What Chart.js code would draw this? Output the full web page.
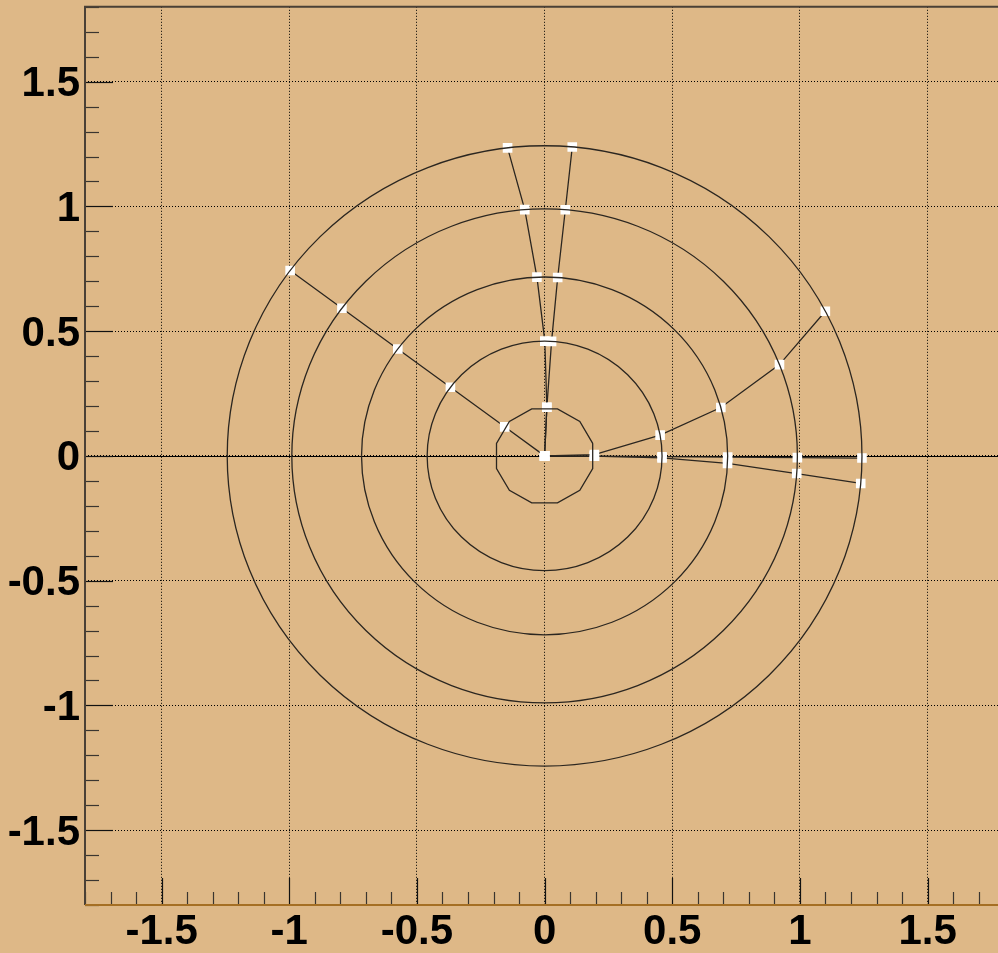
<!DOCTYPE html>
<html>
<head>
<meta charset="utf-8">
<script src="https://cdn.jsdelivr.net/npm/chart.js@4"></script>
<style>
  html, body { margin: 0; padding: 0; overflow: hidden; background: #deb887; }
  #wrap { position: absolute; left: 0; top: 0; width: 1011px; height: 953px; }
</style>
</head>
<body>
<div id="wrap"><canvas id="polar" width="1011" height="953"></canvas></div>
<script>
// --- Datos: radios comunes y ángulos (grados) de cada rama ---
const radii      = [0, 0.195, 0.46, 0.717, 0.99, 1.243];
const ringRadii  = [0.195, 0.46, 0.717, 0.99, 1.243];
const spokeA     = [0, 143.3, 143.3, 143.3, 143.3, 143.3];
const spokeB     = [0, 87.4, 89.9, 92.4, 94.5, 96.7];
const spokeC     = [0, 87.4, 86.6, 85.9, 85.3, 85.0];
const spokeD     = [0, 1.6, 10.4, 15.7, 21.7, 27.8];
const spokeE     = [0, -0.3, -1.0, -2.4, -4.1, -5.1];
const spokeF     = [0, -0.4, -0.4, -0.4, -0.4, -0.4];
const tickValues = [-1.5, -1, -0.5, 0, 0.5, 1, 1.5];
const axisMin = -1.8, axisMax = 1.8;

const BG = '#deb887';
const LINE = '#2b2620';

// (r, theta) -> {x, y}
const toXY = angles => radii.map((r, i) => {
  const t = angles[i] * Math.PI / 180;
  return { x: r * Math.cos(t), y: r * Math.sin(t) };
});

const spoke = angles => ({
  data: toXY(angles),
  showLine: true,
  borderColor: LINE,
  borderWidth: 1.3,
  pointStyle: 'rect',
  pointRadius: 6.8,
  pointBackgroundColor: '#ffffff',
  pointBorderWidth: 0
});

// fondo del canvas
const bgPlugin = {
  id: 'bg',
  beforeDraw(chart) {
    const ctx = chart.ctx;
    ctx.save();
    ctx.fillStyle = BG;
    ctx.fillRect(0, 0, chart.width, chart.height);
    ctx.restore();
  }
};

// eje polar horizontal (y = 0), debajo de los marcadores
const axisPlugin = {
  id: 'polarAxis',
  beforeDatasetsDraw(chart) {
    const { ctx, chartArea: a, scales: { y } } = chart;
    const py = Math.round(y.getPixelForValue(0)) + 0.5;
    ctx.save();
    ctx.strokeStyle = '#000';
    ctx.lineWidth = 1;
    ctx.beginPath();
    ctx.moveTo(a.left, py);
    ctx.lineTo(a.right, py);
    ctx.stroke();
    ctx.restore();
  }
};

// círculos de radio constante, por encima de los marcadores
const ringsPlugin = {
  id: 'rings',
  afterDatasetsDraw(chart) {
    const { ctx, scales: { x, y } } = chart;
    const cx = x.getPixelForValue(0), cy = y.getPixelForValue(0);
    ctx.save();
    ctx.strokeStyle = LINE;
    ctx.lineWidth = 1.3;
    ringRadii.forEach((r, i) => {
      ctx.beginPath();
      if (i === 0) {
        // el más pequeño sale como dodecágono
        for (let k = 0; k <= 12; k++) {
          const t = (15 + 30 * k) * Math.PI / 180;
          const px = x.getPixelForValue(r * Math.cos(t));
          const py = y.getPixelForValue(r * Math.sin(t));
          k ? ctx.lineTo(px, py) : ctx.moveTo(px, py);
        }
      } else {
        const rx = x.getPixelForValue(r) - cx;
        const ry = cy - y.getPixelForValue(r);
        ctx.ellipse(cx, cy, rx, ry, 0, 0, Math.PI * 2);
      }
      ctx.stroke();
    });
    ctx.restore();
  }
};

// marco y marcas hacia dentro cada 0.1
const framePlugin = {
  id: 'frame',
  afterDraw(chart) {
    const { ctx, chartArea: a, scales: { x, y } } = chart;
    ctx.save();
    ctx.lineWidth = 1.2;
    for (let k = Math.ceil(axisMin * 10); k <= Math.floor(axisMax * 10); k++) {
      const major = k % 5 === 0;
      ctx.strokeStyle = major ? '#111' : '#3a3530';
      const px = Math.round(x.getPixelForValue(k / 10)) + 0.5;
      ctx.beginPath();
      ctx.moveTo(px, a.bottom);
      ctx.lineTo(px, a.bottom - (major ? 27 : 13));
      ctx.stroke();
      const py = Math.round(y.getPixelForValue(k / 10)) + 0.5;
      ctx.beginPath();
      ctx.moveTo(a.left, py);
      ctx.lineTo(a.left + (major ? 28 : 14), py);
      ctx.stroke();
    }
    ctx.lineWidth = 2;
    ctx.strokeStyle = '#4a4036';
    ctx.beginPath();
    ctx.moveTo(a.left, a.bottom);
    ctx.lineTo(a.left, a.top);
    ctx.lineTo(a.right, a.top);
    ctx.stroke();
    ctx.strokeStyle = '#a56f24';
    ctx.beginPath();
    ctx.moveTo(a.left, a.bottom);
    ctx.lineTo(a.right, a.bottom);
    ctx.stroke();
    ctx.restore();
  }
};

const tickFont = { family: "'Liberation Sans', Arial, sans-serif", size: 42, weight: 'bold' };
const fixedTicks = sc => { sc.ticks = tickValues.map(v => ({ value: v })); };

new Chart(document.getElementById('polar').getContext('2d'), {
  type: 'scatter',
  data: {
    datasets: [spokeA, spokeB, spokeC, spokeD, spokeE, spokeF].map(spoke)
  },
  options: {
    responsive: false,
    animation: false,
    devicePixelRatio: 1,
    layout: { padding: { top: 6, right: 6, left: 0, bottom: 0 } },
    plugins: { legend: { display: false }, tooltip: { enabled: false } },
    scales: {
      x: {
        type: 'linear',
        position: 'bottom',
        min: axisMin,
        max: axisMax,
        afterBuildTicks: fixedTicks,
        afterFit: sc => { sc.height = 48; sc.paddingLeft = 0; sc.paddingRight = 0; },
        grid: { color: '#000', lineWidth: 1, drawTicks: false },
        border: { display: false, dash: [1, 2] },
        ticks: { font: tickFont, color: '#000', padding: 2, maxRotation: 0, autoSkip: false, callback: v => String(v) }
      },
      y: {
        type: 'linear',
        position: 'left',
        min: axisMin,
        max: axisMax,
        afterBuildTicks: fixedTicks,
        afterFit: sc => { sc.width = 85; sc.paddingTop = 0; sc.paddingBottom = 0; },
        grid: { color: '#000', lineWidth: 1, drawTicks: false },
        border: { display: false, dash: [1, 2] },
        ticks: { font: tickFont, color: '#000', padding: 5, labelOffset: 3, autoSkip: false, callback: v => String(v) }
      }
    }
  },
  plugins: [bgPlugin, axisPlugin, ringsPlugin, framePlugin]
});
</script>
</body>
</html>
